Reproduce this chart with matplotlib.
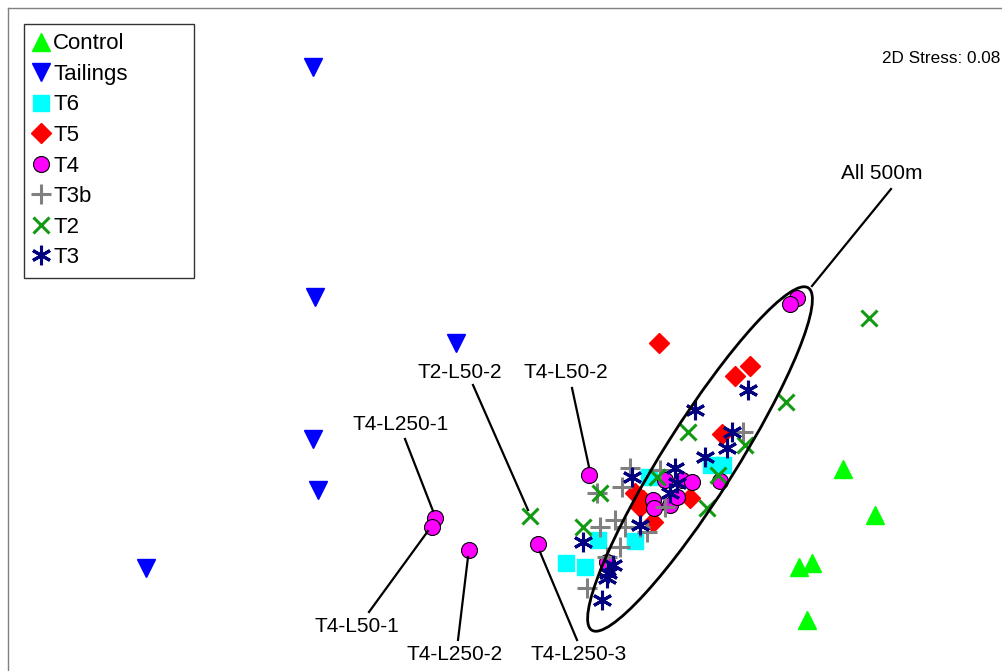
import matplotlib
matplotlib.use("Agg")
import matplotlib.pyplot as plt
from matplotlib.patches import Ellipse

plt.rcParams['font.family'] = ['Liberation Sans', 'DejaVu Sans']

# NMDS coordinates (screen-like units, y downwards)
control_x = [843, 875, 812, 799, 807]
control_y = [469, 515, 563, 567, 620]
tailings_x = [313, 315, 456, 313, 318, 146]
tailings_y = [67, 297, 343, 439, 490, 568]
t6_x = [566, 585, 598, 635, 649, 711, 723]
t6_y = [563, 567, 540, 541, 477, 465, 465]
t5_x = [659, 735, 750, 722, 635, 640, 690, 653, 643]
t5_y = [343, 376, 366, 434, 493, 507, 498, 522, 500]
t4_x = [797, 790, 589, 435, 432, 469, 538, 720, 665, 682, 692, 653, 654, 670, 677, 607]
t4_y = [298, 304, 475, 518, 527, 550, 544, 481, 480, 480, 482, 500, 508, 505, 497, 562]
t3b_x = [630, 622, 597, 600, 615, 625, 620, 607, 587, 660, 665, 743, 647, 640]
t3b_y = [468, 487, 493, 527, 520, 527, 547, 557, 588, 470, 507, 432, 532, 527]
t2_x = [869, 786, 688, 745, 718, 707, 530, 600, 583, 657]
t2_y = [318, 402, 432, 445, 475, 508, 516, 493, 527, 477]
t3_x = [748, 695, 732, 727, 705, 632, 675, 677, 670, 640, 583, 613, 608, 607, 602]
t3_y = [390, 410, 432, 448, 457, 477, 468, 483, 493, 525, 542, 565, 573, 578, 600]

groups = [
    ("Control", control_x, control_y, dict(marker='^', color='#00FF00', ms=13, mec='#00FF00', ls='none')),
    ("Tailings", tailings_x, tailings_y, dict(marker='v', color='#0000FF', ms=13, mec='#0000FF', ls='none')),
    ("T6", t6_x, t6_y, dict(marker='s', color='#00FFFF', ms=11, mec='#00FFFF', ls='none')),
    ("T5", t5_x, t5_y, dict(marker='D', color='#FF0000', ms=10, mec='#FF0000', ls='none')),
    ("T4", t4_x, t4_y, dict(marker='o', color='#FF00FF', ms=11.5, mec='black', mew=0.8, ls='none')),
    ("T3b", t3b_x, t3b_y, dict(marker='+', color='#808080', ms=14, mew=2.2, ls='none')),
    ("T2", t2_x, t2_y, dict(marker='x', color='#129A12', ms=11, mew=2.2, ls='none')),
    ("T3", t3_x, t3_y, dict(marker=(6, 2, 0), color='#000080', ms=14, mew=2.2, ls='none')),
]

W, H = 1002, 671
fig = plt.figure(figsize=(W / 100, H / 100), dpi=100)
ax = fig.add_axes([8 / W, -10 / H, 1.0, (H - 8 + 10) / H])
ax.set_xlim(8, 8 + W)
ax.set_ylim(H + 10, 8)
ax.set_xticks([])
ax.set_yticks([])
for s in ['right', 'bottom']:
    ax.spines[s].set_visible(False)
for s in ['left', 'top']:
    ax.spines[s].set_color('#808080')
    ax.spines[s].set_linewidth(1.0)

handles = []
for name, xs, ys, kw in groups:
    h, = ax.plot(xs, ys, label=name, zorder=3, **kw)
    handles.append(h)

# Ellipse around "All 500m"
ell = Ellipse((700, 459), width=405, height=72, angle=-57.7, fill=False,
              edgecolor='black', lw=2, zorder=4)
ax.add_patch(ell)

fs = 15
annotations = [
    ("All 500m", (882, 173), (891, 189), (812, 286)),
    ("T2-L50-2", (460, 372), (473, 385), (528, 510)),
    ("T4-L50-2", (566, 372), (572, 388), (589, 467)),
    ("T4-L250-1", (401, 424), (405, 439), (433, 511)),
    ("T4-L50-1", (357, 626), (369, 612), (428, 531)),
    ("T4-L250-2", (455, 655), (458, 640), (468, 557)),
    ("T4-L250-3", (579, 655), (577, 640), (540, 552)),
]
for txt, (tx, ty), (x0, y0), (x1, y1) in annotations:
    ax.text(tx, ty, txt, ha='center', va='center', fontsize=fs, zorder=5)
    ax.plot([x0, x1], [y0, y1], color='black', lw=1.6, zorder=4)

ax.text(1000, 58, "2D Stress: 0.08", ha='right', va='center', fontsize=12.3)

# legend box: figure pixels x 24..194, y 24..280
ah = H - 8 + 10
leg = ax.legend(handles=handles, loc='upper left',
                bbox_to_anchor=(16 / W, 1 - 16 / ah, 170 / W, 0),
                mode='expand',
                fontsize=16, frameon=True, fancybox=False, edgecolor='black',
                handlelength=0.7, handletextpad=0.2, labelspacing=0.43,
                borderpad=0.42, borderaxespad=0, numpoints=1)
leg.get_frame().set_linewidth(1.0)
leg.set_zorder(10)

fig.savefig("out.png", dpi=100)
